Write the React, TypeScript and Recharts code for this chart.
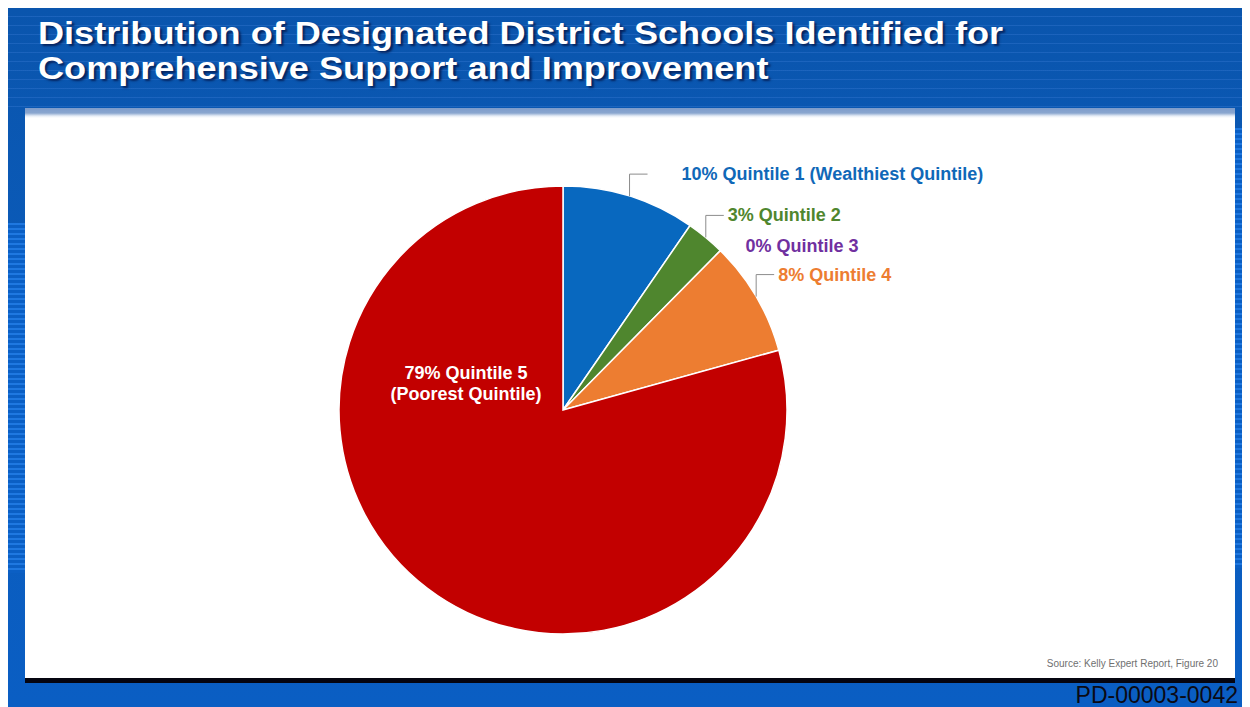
import React from "react";
import { PieChart, Pie, Cell } from "recharts";

const categories = [
  "Quintile 1 (Wealthiest Quintile)",
  "Quintile 2",
  "Quintile 3",
  "Quintile 4",
  "Quintile 5",
];
const shares = [9.6, 2.8, 0, 8.3, 79.3];
const secondLine = ["", "", "", "", "(Poorest Quintile)"];
const sliceColors = ["#0868bf", "#4f862e", "#7030a0", "#ed7d31", "#c20000"];
const labelColors = ["#1068b8", "#4f862e", "#7030a0", "#ed7d31", "#ffffff"];

const data = categories.map((name, i) => ({ name, value: shares[i] }));

const RADIAN = Math.PI / 180;
const FONT = "'Liberation Sans', Arial, Helvetica, sans-serif";

const renderLabel = (props: any) => {
  const { cx, cy, midAngle, outerRadius, index, value } = props;
  const pct = `${Math.round(value)}%`;
  const color = labelColors[index];
  if (index === 4) {
    const x = cx - 97;
    return (
      <text
        x={x}
        y={cy - 31}
        fill={color}
        textAnchor="middle"
        fontFamily={FONT}
        fontWeight="bold"
        fontSize={18}
      >
        <tspan x={x} dy={0}>{`${pct} ${categories[index].split(" (")[0]}`}</tspan>
        <tspan x={x} dy={21}>{secondLine[index]}</tspan>
      </text>
    );
  }
  const ax = cx + outerRadius * Math.cos(-midAngle * RADIAN);
  const ay = cy + outerRadius * Math.sin(-midAngle * RADIAN);
  if (index === 2) {
    return (
      <text
        x={ax + 25}
        y={ay + 1}
        fill={color}
        fontFamily={FONT}
        fontWeight="bold"
        fontSize={18}
      >
        {`${pct} ${categories[index]}`}
      </text>
    );
  }
  const rise = 22;
  const run = 18;
  const ey = ay - rise;
  const ex = ax + run;
  const extra = index === 0 ? 34 : 4;
  return (
    <g>
      <polyline
        points={`${ax},${ay} ${ax},${ey} ${ex},${ey}`}
        fill="none"
        stroke="#8c8c8c"
        strokeWidth={1}
      />
      <text
        x={ex + extra}
        y={ey + 6}
        fill={color}
        fontFamily={FONT}
        fontWeight="bold"
        fontSize={18}
      >
        {`${pct} ${categories[index]}`}
      </text>
    </g>
  );
};

const sideStripes =
  "repeating-linear-gradient(180deg, #1f78e0 0px, #1f78e0 2px, #0b5fc4 2px, #0b5fc4 5px)";

export default function App() {
  return (
    <div
      style={{
        position: "relative",
        width: 1242,
        height: 699,
        overflow: "hidden",
        background: "linear-gradient(180deg, #0a55ad 0%, #0b5cbc 50%, #0a5ec3 100%)",
        fontFamily: FONT,
      }}
    >
      {/* side stripes */}
      <div style={{ position: "absolute", left: 0, top: 215, width: 17, height: 350, background: sideStripes }} />
      <div style={{ position: "absolute", left: 1227, top: 120, width: 15, height: 440, background: sideStripes }} />
      <div
        style={{
          position: "absolute",
          left: 0,
          top: 0,
          width: 1242,
          height: 100,
          background:
            "repeating-linear-gradient(180deg, rgba(255,255,255,0) 0px, rgba(255,255,255,0) 8px, rgba(80,140,230,0.25) 8px, rgba(80,140,230,0.25) 9px)",
        }}
      />
      {/* title */}
      <div
        style={{
          position: "absolute",
          left: 30,
          top: 8,
          color: "#ffffff",
          fontWeight: "bold",
          fontSize: 31,
          lineHeight: "35px",
          whiteSpace: "nowrap",
          transform: "scaleX(1.165)",
          transformOrigin: "left top",
          textShadow: "2px 2px 2px rgba(0,0,40,0.6)",
        }}
      >
        <div>Distribution of Designated District Schools Identified for</div>
        <div>Comprehensive Support and Improvement</div>
      </div>
      {/* white panel */}
      <div
        style={{
          position: "absolute",
          left: 17,
          top: 100,
          width: 1210,
          height: 570,
          background: "linear-gradient(180deg, #7d9ccb 0px, #8aa6cf 5px, #e6edf6 8px, #ffffff 10px, #ffffff 100%)",
          borderBottom: "1px solid #d8d8d8",
        }}
      />
      <div style={{ position: "absolute", left: 17, top: 670, width: 1210, height: 5, background: "#050510" }} />
      {/* source */}
      <div
        style={{
          position: "absolute",
          right: 32,
          top: 650,
          fontSize: 10,
          color: "#707070",
          whiteSpace: "nowrap",
        }}
      >
        Source: Kelly Expert Report, Figure 20
      </div>
      <div
        style={{
          position: "absolute",
          right: 12,
          top: 674,
          fontSize: 23,
          color: "#0a0a14",
          whiteSpace: "nowrap",
        }}
      >
        PD-00003-0042
      </div>
      <div style={{ position: "absolute", left: 0, top: 0 }}>
        <PieChart width={1242} height={699}>
          <Pie
            data={data}
            dataKey="value"
            nameKey="name"
            cx={550}
            cy={397}
            outerRadius={224}
            startAngle={90}
            endAngle={-270}
            stroke="#ffffff"
            strokeWidth={1.5}
            label={renderLabel}
            labelLine={false}
            isAnimationActive={false}
          >
            {data.map((d, i) => (
              <Cell key={d.name} fill={sliceColors[i]} />
            ))}
          </Pie>
        </PieChart>
      </div>
    </div>
  );
}
